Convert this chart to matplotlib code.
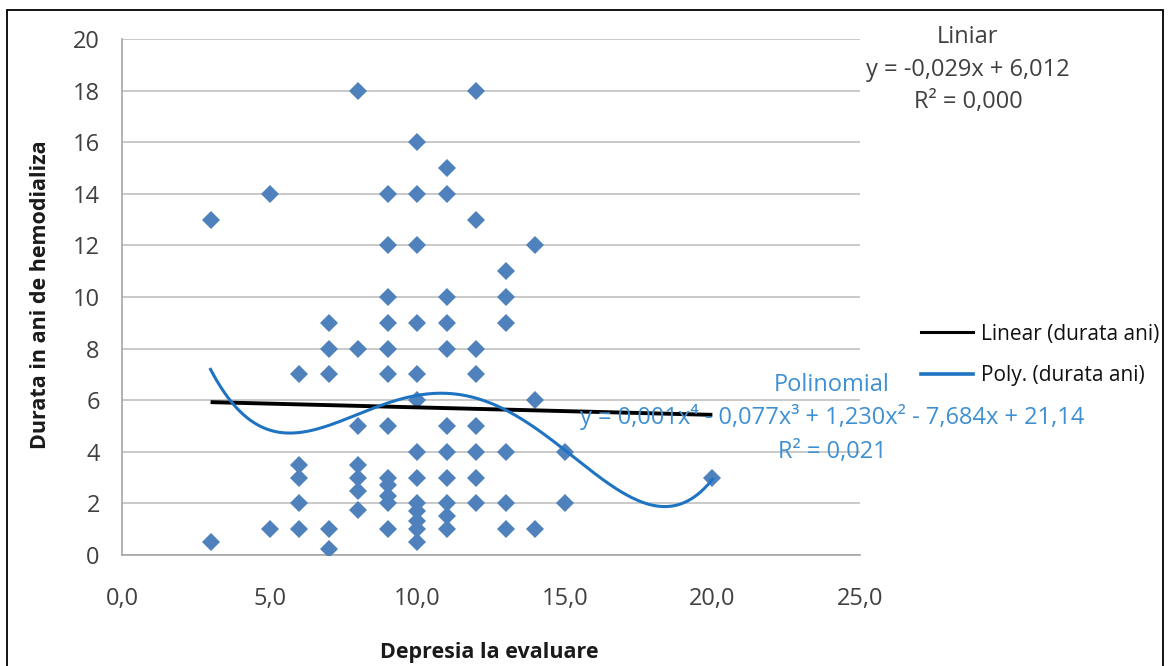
import numpy as np
import matplotlib
matplotlib.use("Agg")
import matplotlib.pyplot as plt
from matplotlib.lines import Line2D
from matplotlib.patches import Rectangle

# ---- data ----
depresia = [3, 3,
            5, 5,
            6, 6, 6, 6, 6,
            7, 7, 7, 7, 7,
            8, 8, 8, 8, 8, 8, 8,
            9, 9, 9, 9, 9, 9, 9, 9, 9, 9, 9, 9,
            10, 10, 10, 10, 10, 10, 10, 10, 10, 10, 10, 10, 10,
            11, 11, 11, 11, 11, 11, 11, 11, 11, 11, 11,
            12, 12, 12, 12, 12, 12, 12, 12,
            13, 13, 13, 13, 13, 13,
            14, 14, 14,
            15, 15,
            20]
durata = [13, 0.5,
          14, 1,
          7, 3.5, 3, 2, 1,
          9, 8, 7, 1, 0.25,
          18, 8, 5, 3.5, 3, 2.5, 1.75,
          14, 12, 10, 9, 8, 7, 5, 3, 2.7, 2.3, 2, 1,
          16, 14, 12, 9, 7, 6, 4, 3, 2, 1.7, 1.3, 1, 0.5,
          15, 14, 10, 9, 8, 5, 4, 3, 2, 1.5, 1,
          18, 13, 8, 7, 5, 4, 3, 2,
          11, 10, 9, 4, 2, 1,
          12, 6, 1,
          4, 2,
          3]

# linear trendline coefficients as printed on the chart
lin_slope = -0.029
lin_intercept = 6.012
# points (order 4)
poly_read_x = [3.02, 3.66, 5.8, 7.15, 8.75, 11.0, 13.05, 15.0, 15.5, 18.6, 20.0]
poly_read_y = [7.21, 5.93, 4.65, 5.23, 5.74, 6.24, 5.62, 4.07, 3.57, 1.94, 2.91]

x_ticks = [0, 5, 10, 15, 20, 25]
x_tick_labels = ["0,0", "5,0", "10,0", "15,0", "20,0", "25,0"]
y_ticks = [0, 2, 4, 6, 8, 10, 12, 14, 16, 18, 20]

linear_title = "Liniar"
linear_eq = "y = -0,029x + 6,012"
linear_r2 = "R² = 0,000"
poly_title = "Polinomial"
poly_eq = "y = 0,001x⁴ - 0,077x³ + 1,230x² - 7,684x + 21,14"
poly_r2 = "R² = 0,021"
legend_labels = ["Linear (durata ani)", "Poly. (durata ani)"]

# ---- style ----
FAM = ['Open Sans', 'DejaVu Sans']
plt.rcParams['font.family'] = FAM
TXT = '#404040'
MARK = '#4f81bd'
POLY = '#1f74c2'
POLY_TXT = '#3f90d2'
GRID = '#c0c0c0'

W, H = 1170, 666
fig = plt.figure(figsize=(W / 100, H / 100), dpi=100)
ax = fig.add_axes([122 / W, 1 - 555 / H, (860 - 122) / W, (555 - 39) / H])

x = np.array(depresia, dtype=float)
y = np.array(durata, dtype=float)

xs = np.linspace(x.min(), x.max(), 300)
poly = np.polyfit(poly_read_x, poly_read_y, 4)

ax.plot(x, y, linestyle='none', marker='D', markersize=9.2,
        color=MARK, markeredgewidth=0, zorder=3)
ax.plot(xs, lin_slope * xs + lin_intercept, color='black', lw=2.8, zorder=4,
        solid_capstyle='butt')
ax.plot(xs, np.polyval(poly, xs), color=POLY, lw=2.2, zorder=5)

ax.set_xlim(0, 25)
ax.set_ylim(0, 20)
ax.set_xticks(x_ticks)
ax.set_xticklabels(x_tick_labels)
ax.set_yticks(y_ticks)
ax.grid(axis='y', color=GRID, lw=1.2)
ax.set_axisbelow(True)
for s in ['top', 'right']:
    ax.spines[s].set_visible(False)
for s in ['left', 'bottom']:
    ax.spines[s].set_color('#a6a6a6')
    ax.spines[s].set_linewidth(1.2)
ax.tick_params(axis='both', length=0, colors=TXT, labelsize=17)
ax.tick_params(axis='x', pad=23)
ax.tick_params(axis='y', pad=16)

fig.text(40 / W, 1 - 295 / H, "Durata in ani de hemodializa", rotation=90,
         ha='center', va='center', fontsize=15.5, fontweight='bold', color='#1a1a1a')
fig.text(489 / W, 1 - 658 / H, "Depresia la evaluare",
         ha='center', va='baseline', fontsize=15.5, fontweight='bold', color='#1a1a1a')

# equation labels
for txt, py in [(linear_title, 37), (linear_eq, 70), (linear_r2, 102)]:
    fig.text(968 / W, 1 - py / H, txt, ha='center', va='center',
             fontsize=17, color=TXT)
for txt, py in [(poly_title, 385), (poly_eq, 417), (poly_r2, 452)]:
    fig.text(832 / W, 1 - py / H, txt, ha='center', va='center',
             fontsize=17, color=POLY_TXT, zorder=10)

# legend
handles = [Line2D([], [], color='black', lw=2.2),
           Line2D([], [], color=POLY, lw=2.6)]
fig.legend(handles, legend_labels,
           loc='center left', bbox_to_anchor=(921 / W, 1 - 355 / H),
           frameon=False, handlelength=2.5, handletextpad=0.37,
           borderaxespad=0, borderpad=0,
           labelspacing=1.0, labelcolor='#111111',
           prop={'family': FAM, 'size': 15})

# outer frame
fig.patches.append(Rectangle((7 / W, -0.05), (1163 - 7) / W, 1 - 10 / H + 0.05,
                             transform=fig.transFigure, fill=False,
                             edgecolor='black', lw=1.3))

fig.savefig("out.png", dpi=100)
